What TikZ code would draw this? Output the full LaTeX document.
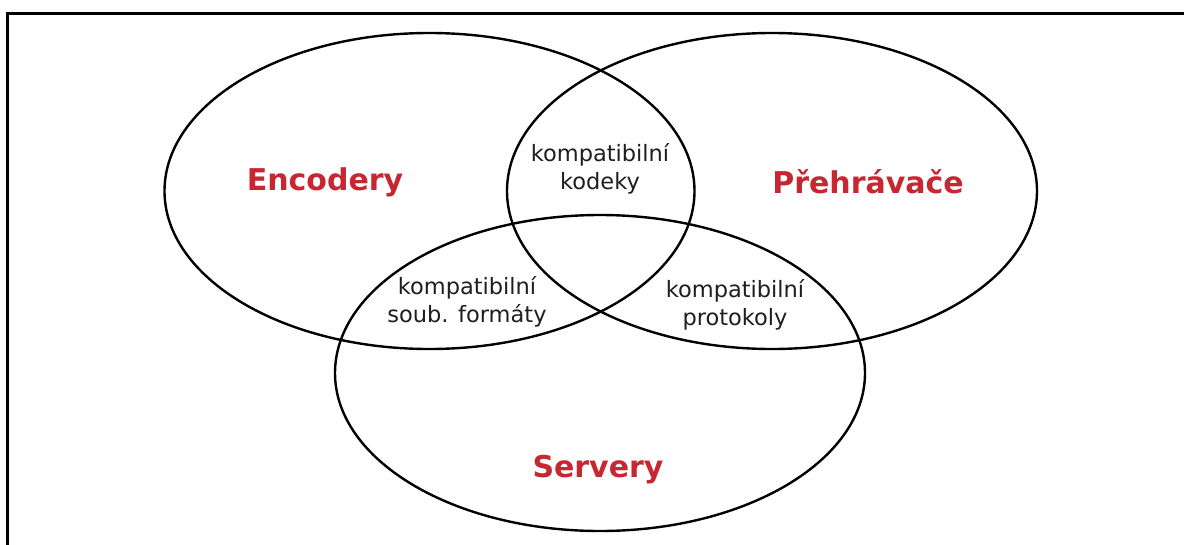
\documentclass[tikz,border=0pt]{standalone}
\usepackage{fontspec}
\setmainfont{DejaVu Sans}
\usetikzlibrary{shapes.geometric}
\definecolor{setred}{RGB}{198,39,48}
\begin{document}
\begin{tikzpicture}[x=1pt,y=-1pt,
  setshape/.style={draw=black, line width=2.4pt, ellipse, inner sep=0pt,
    minimum width=530pt, minimum height=316pt},
  settitle/.style={text=setred, font=\fontsize{30}{34}\selectfont\bfseries},
  overlap/.style={text=black!88, align=center,
    font=\fontsize{22.5}{28}\selectfont}]
  \useasboundingbox (0,0) rectangle (1184,544);
  \fill[white] (0,0) rectangle (1184,544);
  % open frame: left and top edges only
  \draw[line width=2.5pt, line cap=rect] (7.5,560) -- (7.5,13.5) -- (1200,13.5);
  % the three sets
  \node[setshape] (enc) at (429.5,191) {};
  \node[setshape] (pla) at (772,191) {};
  \node[setshape] (srv) at (600,373) {};
  % set names
  \node[settitle] (encl) at (325,182) {Encodery};
  \node[settitle] (plal) at (868,182) {Přehrávače};
  \node[settitle] (srvl) at (598,470) {Servery};
  % overlaps
  \node[overlap] (codec) at (600,169) {kompatibilní\\kodeky};
  \node[overlap] (fmt) at (467,302) {kompatibilní\\soub. formáty};
  \node[overlap] (proto) at (735,305) {kompatibilní\\protokoly};
\end{tikzpicture}
\end{document}
